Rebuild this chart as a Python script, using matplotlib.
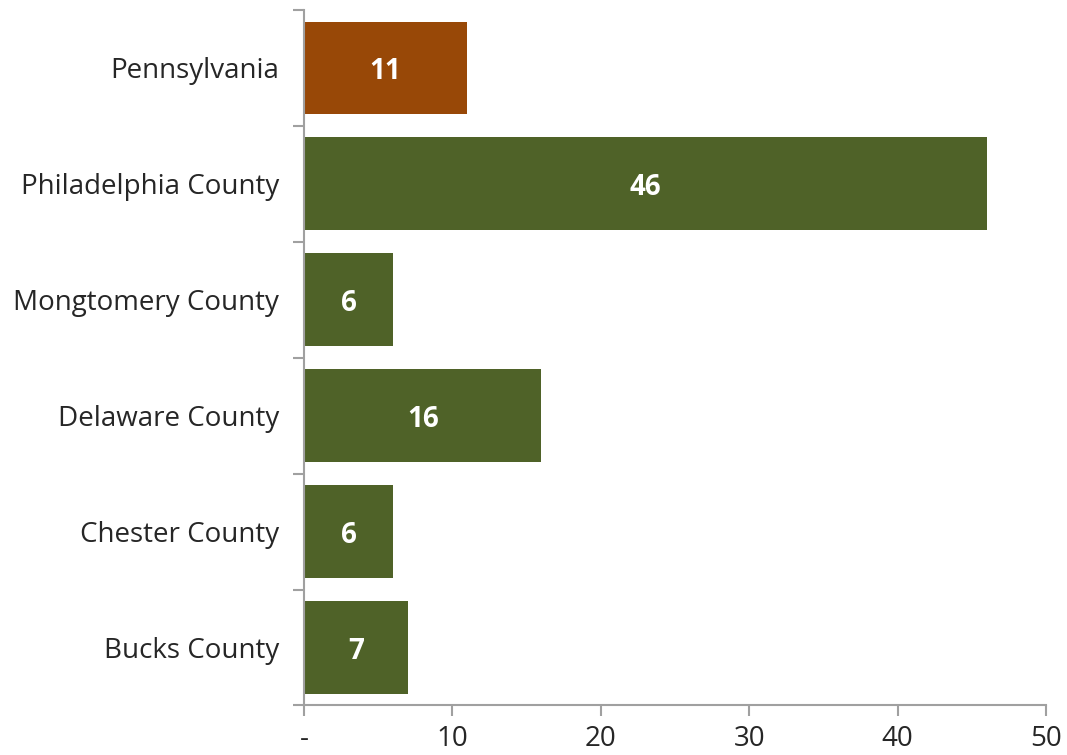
import matplotlib
matplotlib.use("Agg")
import matplotlib.pyplot as plt

plt.rcParams['font.family'] = ['Open Sans', 'DejaVu Sans']

categories = ["Pennsylvania", "Philadelphia County", "Mongtomery County",
              "Delaware County", "Chester County", "Bucks County"]
values = [11, 46, 6, 16, 6, 7]
colors = ["#984807", "#4F6228", "#4F6228", "#4F6228", "#4F6228", "#4F6228"]
xticks = [0, 10, 20, 30, 40, 50]
xtick_labels = ["-", "10", "20", "30", "40", "50"]

fig = plt.figure(figsize=(10.67, 7.55), dpi=100)
ax = fig.add_axes([0.2849, 0.0656, 0.6954, 0.9212])

pos = list(range(len(categories)))[::-1]
bars = ax.barh(pos, values, height=0.8, color=colors)
for b, v in zip(bars, values):
    ax.text(v / 2, b.get_y() + b.get_height() / 2, str(v), ha='center',
            va='center_baseline', color='white', fontsize=20, fontweight='bold')

ax.set_xlim(0, 50)
ax.set_ylim(-0.5, len(categories) - 0.5)
ax.set_xticks(xticks)
ax.set_xticklabels(xtick_labels, fontsize=20, color='#262626')
ax.set_yticks(pos)
ax.set_yticklabels(categories, fontsize=20, color='#262626')
ax.set_yticks([p - 0.5 for p in range(len(categories) + 1)], minor=True)
ax.tick_params(axis='y', which='major', length=0, pad=18)
ax.tick_params(axis='y', which='minor', length=8, width=1.5, color='#A0A0A0')
ax.tick_params(axis='x', length=8, width=1.5, color='#A0A0A0', pad=6)

for s in ['top', 'right']:
    ax.spines[s].set_visible(False)
for s in ['left', 'bottom']:
    ax.spines[s].set_color('#A0A0A0')
    ax.spines[s].set_linewidth(1.5)

fig.savefig("out.png", dpi=100)
